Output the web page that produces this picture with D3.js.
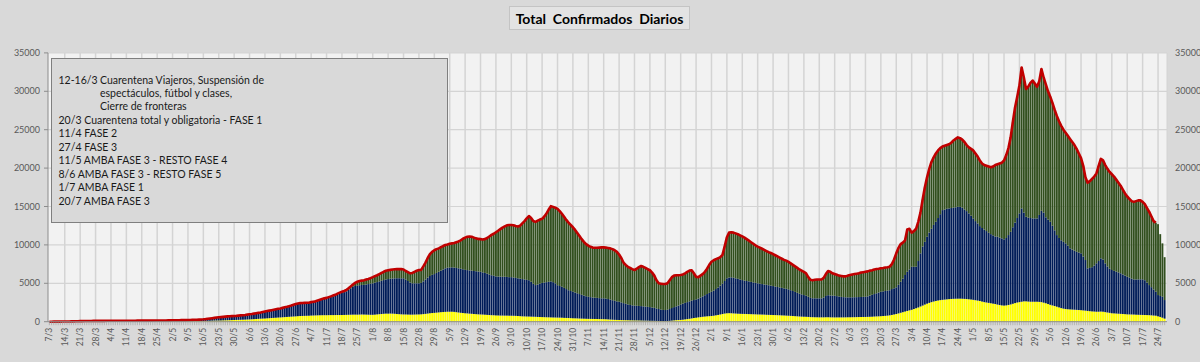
<!DOCTYPE html>
<html>
<head>
<meta charset="utf-8">
<script src="https://cdn.jsdelivr.net/npm/d3@7"></script>
<style>
  body { margin: 0; background: #d9d9d9; }
  text { font-family: Lato, "Liberation Sans", sans-serif; }
</style>
</head>
<body>
<div id="grafico"></div>
<script>
// primer dia de la serie (7/3/2020), un valor por dia
var inicio = new Date(2020, 2, 7);

var amarillo = [
  1, 1, 2, 3, 3, 4, 5,
  6, 8, 10, 12, 14, 16, 18,
  20, 22, 24, 26, 27, 28, 29,
  30, 31, 32, 32, 33, 33, 34,
  34, 35, 35, 36, 36, 37, 37,
  38, 38, 39, 39, 40, 40, 41,
  41, 42, 42, 43, 43, 44, 45,
  46, 47, 48, 48, 50, 51, 53,
  54, 56, 57, 59, 60, 62, 63,
  66, 69, 72, 75, 78, 82, 85,
  90, 100, 110, 120, 130, 140, 145,
  150, 160, 170, 180, 190, 200, 210,
  220, 230, 240, 250, 260, 270, 285,
  300, 315, 330, 350, 370, 390, 405,
  420, 440, 460, 480, 500, 520, 540,
  560, 580, 600, 620, 640, 660, 680,
  700, 720, 740, 750, 760, 770, 780,
  800, 810, 820, 830, 840, 845, 850,
  850, 855, 860, 860, 865, 870, 870,
  870, 880, 890, 900, 910, 920, 920,
  920, 930, 940, 930, 920, 910, 900,
  900, 920, 950, 980, 1000, 1030, 1050,
  1050, 1060, 1050, 1030, 1000, 980, 960,
  950, 940, 930, 920, 920, 930, 940,
  950, 960, 990, 1020, 1060, 1100, 1130,
  1150, 1180, 1210, 1240, 1260, 1280, 1300,
  1300, 1300, 1280, 1240, 1200, 1160, 1130,
  1100, 1080, 1050, 1030, 1000, 980, 960,
  950, 930, 910, 890, 870, 850, 840,
  820, 810, 800, 800, 790, 790, 780,
  780, 770, 760, 740, 720, 700, 690,
  680, 670, 660, 650, 640, 620, 610,
  600, 590, 580, 570, 560, 550, 545,
  540, 530, 520, 500, 490, 480, 465,
  450, 440, 430, 415, 400, 390, 380,
  370, 365, 360, 355, 350, 340, 335,
  330, 320, 300, 280, 260, 240, 230,
  220, 210, 200, 195, 190, 180, 175,
  170, 165, 160, 150, 140, 135, 130,
  120, 115, 110, 100, 95, 90, 85,
  80, 90, 110, 140, 170, 200, 215,
  230, 260, 300, 340, 380, 430, 480,
  520, 560, 600, 640, 670, 700, 720,
  740, 780, 830, 880, 940, 1000, 1060,
  1100, 1110, 1100, 1080, 1060, 1040, 1030,
  1020, 1010, 1000, 990, 980, 970, 960,
  950, 940, 930, 920, 900, 890, 880,
  870, 860, 850, 840, 820, 810, 790,
  780, 760, 740, 720, 700, 680, 660,
  650, 640, 620, 600, 590, 580, 575,
  570, 570, 570, 580, 580, 570, 565,
  560, 560, 560, 560, 565, 570, 575,
  580, 585, 590, 600, 605, 610, 615,
  620, 630, 640, 650, 670, 690, 700,
  720, 740, 760, 790, 830, 880, 940,
  1000, 1080, 1160, 1240, 1320, 1400, 1480,
  1550, 1650, 1750, 1850, 1980, 2100, 2230,
  2350, 2450, 2550, 2630, 2700, 2760, 2810,
  2850, 2880, 2910, 2940, 2960, 2980, 2990,
  3000, 3000, 2990, 2970, 2950, 2920, 2890,
  2850, 2800, 2750, 2700, 2620, 2550, 2500,
  2450, 2400, 2350, 2300, 2230, 2170, 2120,
  2100, 2120, 2180, 2250, 2330, 2420, 2500,
  2550, 2600, 2650, 2650, 2620, 2600, 2600,
  2600, 2600, 2580, 2550, 2480, 2400, 2300,
  2200, 2120, 2040, 1950, 1860, 1770, 1700,
  1650, 1620, 1600, 1580, 1560, 1540, 1520,
  1500, 1470, 1440, 1400, 1370, 1340, 1320,
  1300, 1300, 1320, 1300, 1250, 1200, 1150,
  1100, 1080, 1060, 1040, 1020, 1000, 980,
  960, 950, 940, 930, 910, 900, 890,
  880, 870, 860, 850, 830, 800, 780,
  700, 620, 520, 400
];

var azul = [
  1, 2, 3, 5, 7, 10, 13,
  16, 20, 25, 28, 34, 39, 44,
  50, 56, 61, 64, 68, 72, 73,
  75, 77, 78, 80, 79, 81, 81,
  82, 83, 85, 84, 86, 87, 88,
  87, 88, 89, 91, 92, 94, 94,
  95, 96, 98, 99, 101, 102, 105,
  106, 108, 110, 112, 115, 119, 122,
  126, 129, 133, 136, 140, 143, 147,
  154, 161, 168, 175, 182, 193, 205,
  220, 240, 270, 300, 330, 360, 395,
  420, 440, 460, 480, 500, 510, 520,
  520, 530, 550, 570, 590, 610, 635,
  660, 685, 720, 750, 780, 810, 855,
  900, 940, 980, 1020, 1060, 1100, 1140,
  1170, 1220, 1270, 1320, 1380, 1440, 1520,
  1600, 1660, 1680, 1690, 1690, 1690, 1690,
  1750, 1780, 1810, 1890, 1970, 2055, 2130,
  2180, 2265, 2350, 2440, 2525, 2650, 2760,
  2880, 2970, 3060, 3250, 3440, 3630, 3730,
  3780, 3820, 3840, 3870, 3930, 3990, 4050,
  4100, 4160, 4210, 4270, 4330, 4390, 4450,
  4500, 4540, 4570, 4620, 4660, 4680, 4690,
  4700, 4560, 4370, 4180, 4080, 4070, 4060,
  4050, 4090, 4260, 4480, 4690, 4850, 4970,
  5050, 5170, 5290, 5410, 5540, 5670, 5730,
  5750, 5780, 5770, 5760, 5750, 5740, 5700,
  5650, 5640, 5630, 5620, 5600, 5590, 5570,
  5550, 5490, 5440, 5360, 5280, 5200, 5140,
  5080, 5070, 5060, 5050, 5060, 5040, 5020,
  5020, 4980, 4940, 4910, 4880, 4850, 4810,
  4770, 4730, 4540, 4300, 4130, 4230, 4340,
  4450, 4510, 4570, 4630, 4690, 4600, 4455,
  4210, 4120, 4030, 3900, 3760, 3620, 3535,
  3450, 3360, 3270, 3185, 3100, 3010, 2940,
  2880, 2835, 2790, 2765, 2750, 2730, 2715,
  2710, 2680, 2650, 2600, 2540, 2480, 2420,
  2380, 2310, 2220, 2135, 2060, 2000, 1955,
  1930, 1905, 1890, 1880, 1860, 1835, 1800,
  1780, 1735, 1690, 1620, 1555, 1490, 1445,
  1440, 1470, 1540, 1640, 1730, 1800, 1885,
  2020, 2090, 2150, 2210, 2270, 2320, 2340,
  2380, 2440, 2550, 2660, 2780, 2900, 3030,
  3160, 3270, 3420, 3570, 3760, 3950, 4240,
  4550, 4640, 4680, 4640, 4590, 4540, 4470,
  4400, 4340, 4300, 4260, 4200, 4150, 4100,
  4050, 4010, 3970, 3930, 3900, 3860, 3820,
  3770, 3720, 3670, 3620, 3580, 3530, 3490,
  3430, 3340, 3260, 3160, 3060, 2970, 2900,
  2820, 2740, 2630, 2500, 2460, 2470, 2465,
  2470, 2470, 2580, 2770, 2870, 2850, 2835,
  2820, 2770, 2720, 2670, 2635, 2610, 2595,
  2590, 2595, 2600, 2600, 2605, 2610, 2625,
  2630, 2670, 2760, 2850, 2930, 3010, 3100,
  3180, 3210, 3240, 3260, 3270, 3370, 3410,
  3470, 3720, 4040, 4360, 4760, 5100, 5320,
  5610, 5500, 5410, 6050, 6920, 7700, 8170,
  8710, 9150, 9550, 9970, 10310, 10740, 11190,
  11680, 11720, 11790, 11810, 11840, 11870, 11910,
  11960, 11950, 11860, 11650, 11450, 11180, 10910,
  10600, 10300, 10050, 9750, 9580, 9450, 9300,
  9130, 9000, 8900, 8800, 8830, 8780, 8730,
  8620, 8780, 9100, 9450, 9970, 10480, 11000,
  11550, 12150, 11550, 11010, 10930, 10900, 10850,
  10850, 10850, 11320, 11890, 11720, 11200, 11000,
  10810, 10380, 9860, 9330, 9040, 8830, 8700,
  8550, 8280, 7950, 7820, 7690, 7560, 7480,
  7400, 7030, 6590, 5550, 5630, 5760, 5980,
  6300, 6600, 6930, 6800, 6350, 6000, 5750,
  5630, 5540, 5460, 5380, 5280, 5150, 5020,
  4900, 4800, 4660, 4580, 4590, 4610, 4630,
  4630, 4530, 4240, 3920, 3670, 3400, 3120,
  2770, 2730, 2730, 2420
];

// total diario (tope de las barras y linea roja)
var total = [
  2, 3, 5, 8, 10, 14, 18,
  22, 28, 35, 40, 48, 55, 62,
  70, 78, 85, 90, 95, 100, 102,
  105, 108, 110, 112, 112, 114, 115,
  116, 118, 120, 120, 122, 124, 125,
  125, 126, 128, 130, 132, 134, 135,
  136, 138, 140, 142, 144, 146, 150,
  152, 155, 158, 160, 165, 170, 175,
  180, 185, 190, 195, 200, 205, 210,
  220, 230, 240, 250, 260, 275, 290,
  310, 340, 380, 420, 460, 500, 540,
  570, 600, 630, 660, 690, 710, 730,
  740, 760, 790, 820, 850, 880, 920,
  960, 1000, 1050, 1100, 1150, 1200, 1260,
  1320, 1380, 1440, 1500, 1560, 1620, 1680,
  1730, 1800, 1870, 1940, 2020, 2100, 2200,
  2300, 2380, 2420, 2440, 2450, 2460, 2470,
  2550, 2600, 2650, 2750, 2850, 2950, 3040,
  3100, 3200, 3300, 3400, 3500, 3650, 3780,
  3900, 4000, 4120, 4350, 4600, 4850, 5050,
  5200, 5300, 5350, 5400, 5480, 5560, 5680,
  5800, 5930, 6050, 6200, 6350, 6500, 6640,
  6700, 6750, 6800, 6830, 6850, 6850, 6850,
  6800, 6600, 6450, 6300, 6350, 6500, 6650,
  6730, 6750, 7200, 7700, 8300, 8800, 9100,
  9300, 9450, 9550, 9700, 9850, 9980, 10050,
  10150, 10200, 10250, 10350, 10450, 10600, 10800,
  10950, 11050, 11100, 11050, 10950, 10850, 10780,
  10750, 10700, 10750, 10900, 11100, 11300, 11450,
  11650, 11850, 12050, 12250, 12400, 12550, 12600,
  12600, 12550, 12450, 12400, 12500, 12800, 13100,
  13450, 13750, 13500, 13100, 13000, 13150, 13300,
  13400, 13700, 14100, 14600, 15050, 14950, 14850,
  14700, 14400, 14050, 13650, 13250, 12900, 12600,
  12300, 11950, 11550, 11150, 10750, 10400, 10100,
  9900, 9750, 9650, 9620, 9620, 9650, 9680,
  9680, 9650, 9600, 9550, 9450, 9300, 9100,
  8750, 8300, 7700, 7400, 7150, 7000, 6850,
  6730, 6900, 7100, 7250, 7150, 7000, 6850,
  6700, 6400, 6000, 5400, 5000, 4950, 4900,
  4900, 5000, 5400, 5800, 6000, 6050, 6050,
  6080, 6150, 6300, 6500, 6650, 6700, 6300,
  5850, 5800, 6000, 6200, 6500, 6900, 7400,
  7800, 8000, 8150, 8250, 8400, 8700, 9800,
  11000, 11600, 11650, 11600, 11500, 11400, 11250,
  11100, 10950, 10750, 10550, 10350, 10150, 9950,
  9780, 9650, 9500, 9350, 9200, 9050, 8950,
  8800, 8650, 8500, 8350, 8200, 8050, 7950,
  7800, 7600, 7400, 7200, 7000, 6800, 6650,
  6500, 6300, 5800, 5450, 5400, 5450, 5500,
  5500, 5500, 5700, 6200, 6600, 6500, 6300,
  6200, 6100, 6000, 5950, 5900, 5900, 6000,
  6080, 6150, 6200, 6250, 6300, 6400, 6450,
  6500, 6550, 6650, 6700, 6800, 6850, 6900,
  6960, 7000, 7050, 7100, 7160, 7500, 8100,
  8900, 9600, 10100, 10300, 10600, 12000, 12100,
  11600, 11800, 12100, 13000, 14200, 15900, 17500,
  18800, 19900, 20800, 21400, 21900, 22300, 22600,
  22800, 22900, 23000, 23100, 23300, 23600, 23800,
  24000, 23900, 23700, 23400, 23000, 22700, 22500,
  22300, 21900, 21500, 21000, 20600, 20400, 20300,
  20200, 20100, 20200, 20400, 20500, 20600, 20700,
  21000, 21700, 22600, 24000, 26000, 27900, 29300,
  30800, 33100, 31800, 30300, 30600, 31100, 31400,
  31000, 30600, 31300, 32900, 31800, 30900, 30000,
  29300, 28500, 27600, 26800, 26100, 25500, 25000,
  24600, 24200, 23800, 23400, 23000, 22500, 21900,
  21300, 20300, 18800, 18100, 18300, 18600, 18900,
  19300, 20300, 21200, 21000, 20400, 19900, 19500,
  19200, 18900, 18500, 18100, 17700, 17200, 16700,
  16300, 16000, 15700, 15600, 15700, 15800, 15800,
  15600, 15300, 14800, 14300, 13700, 13100, 12900,
  12700, 11400, 10200, 8400
];

// la linea roja no llega a los ultimos 4 dias
var diasLinea = 504;

var ticksY = [0, 5000, 10000, 15000, 20000, 25000, 30000, 35000];

var titulo = "Total  Confirmados  Diarios";

var notas = [
  "Cuarentena Viajeros, Suspensión de",
  "espectáculos, fútbol y clases,",
  "Cierre de fronteras",
  "20/3 Cuarentena total y obligatoria - FASE 1",
  "11/4 FASE 2",
  "27/4 FASE 3",
  "11/5 AMBA FASE 3 - RESTO FASE 4",
  "8/6 AMBA FASE 3 - RESTO FASE 5",
  "1/7 AMBA FASE 1",
  "20/7 AMBA FASE 3"
];

var width = 1200, height = 362;
var plot = {left: 48, right: 1167, top: 52.9, bottom: 321.7};

var n = Math.min(amarillo.length, azul.length, total.length);
var fechas = d3.range(n).map(function(i) { return d3.timeDay.offset(inicio, i); });
var fmt = d3.timeFormat("%-d/%-m");

var filas = d3.range(n).map(function(i) {
  return {i: i, amarillo: amarillo[i], azul: azul[i], verde: Math.max(0, total[i] - amarillo[i] - azul[i])};
});

var svg = d3.select("#grafico")
  .append("svg")
    .attr("width", width)
    .attr("height", height);

svg.append("rect")
  .attr("width", width)
  .attr("height", height)
  .attr("fill", "#d9d9d9");

var x = d3.scaleBand()
  .domain(d3.range(n))
  .range([plot.left, plot.right - 1])
  .paddingInner(0.15)
  .paddingOuter(0.2);

var y = d3.scaleLinear()
  .domain([0, 35000])
  .range([plot.bottom, plot.top]);

var cx = function(i) { return x(i) + x.bandwidth() / 2; };

// fondo del area de trazado
svg.append("rect")
  .attr("x", plot.left)
  .attr("y", plot.top)
  .attr("width", plot.right - plot.left)
  .attr("height", plot.bottom - plot.top)
  .attr("fill", "#f2f2f2");

var semanas = d3.range(0, n, 7);

// grilla
svg.append("g")
  .selectAll("line")
  .data(ticksY.slice(1))
  .enter()
  .append("line")
    .attr("x1", plot.left)
    .attr("x2", plot.right)
    .attr("y1", function(d) { return y(d); })
    .attr("y2", function(d) { return y(d); })
    .attr("stroke", "#d4d4d4")
    .attr("stroke-width", 1.2);

svg.append("g")
  .selectAll("line")
  .data(semanas.slice(1))
  .enter()
  .append("line")
    .attr("x1", function(d) { return cx(d); })
    .attr("x2", function(d) { return cx(d); })
    .attr("y1", plot.top)
    .attr("y2", plot.bottom)
    .attr("stroke", "#d4d4d4")
    .attr("stroke-width", 1.5);

// barras apiladas
var colores = {amarillo: "#ffff00", azul: "#001c58", verde: "#314f1e"};
var series = d3.stack().keys(["amarillo", "azul", "verde"])(filas);

svg.append("g")
  .selectAll("g")
  .data(series)
  .enter()
  .append("g")
    .attr("fill", function(s) { return colores[s.key]; })
  .selectAll("rect")
  .data(function(s) { return s; })
  .enter()
  .append("rect")
    .attr("x", function(d) { return x(d.data.i); })
    .attr("width", x.bandwidth())
    .attr("y", function(d) { return y(d[1]); })
    .attr("height", function(d) { return Math.max(0, y(d[0]) - y(d[1])); });

// linea roja del total
var linea = d3.line()
  .x(function(i) { return cx(i); })
  .y(function(i) { return y(total[i]); });

svg.append("path")
  .datum(d3.range(Math.min(diasLinea, n)))
  .attr("d", linea)
  .attr("fill", "none")
  .attr("stroke", "#c00000")
  .attr("stroke-width", 2.6)
  .attr("stroke-linejoin", "round");

// eje izquierdo
svg.append("line")
  .attr("x1", plot.left).attr("x2", plot.left)
  .attr("y1", plot.top).attr("y2", plot.bottom)
  .attr("stroke", "#8c8c8c");

svg.append("line")
  .attr("x1", plot.right).attr("x2", plot.right)
  .attr("y1", plot.top).attr("y2", plot.bottom)
  .attr("stroke", "#d4d4d4");

var ejeIzq = svg.append("g");
ejeIzq.selectAll("line")
  .data(ticksY)
  .enter()
  .append("line")
    .attr("x1", plot.left - 4)
    .attr("x2", plot.left)
    .attr("y1", function(d) { return y(d); })
    .attr("y2", function(d) { return y(d); })
    .attr("stroke", "#8c8c8c");

ejeIzq.selectAll("text")
  .data(ticksY)
  .enter()
  .append("text")
    .attr("x", 40)
    .attr("y", function(d) { return y(d) + 3; })
    .attr("text-anchor", "end")
    .attr("font-size", "9px")
    .attr("fill", "#595959")
    .text(function(d) { return d; });

svg.append("g")
  .selectAll("text")
  .data(ticksY)
  .enter()
  .append("text")
    .attr("x", 1175)
    .attr("y", function(d) { return y(d) + 3; })
    .attr("font-size", "9px")
    .attr("fill", "#595959")
    .text(function(d) { return d; });

// eje inferior con marcas diarias
svg.append("g")
  .selectAll("line")
  .data(d3.range(n))
  .enter()
  .append("line")
    .attr("x1", function(d) { return cx(d); })
    .attr("x2", function(d) { return cx(d); })
    .attr("y1", plot.bottom)
    .attr("y2", plot.bottom + 3.5)
    .attr("stroke", "#9a9a9a")
    .attr("stroke-width", 0.6);

svg.append("line")
  .attr("x1", plot.left).attr("x2", plot.right)
  .attr("y1", plot.bottom).attr("y2", plot.bottom)
  .attr("stroke", "#8c8c8c");

svg.append("g")
  .selectAll("text")
  .data(semanas)
  .enter()
  .append("text")
    .attr("transform", function(d) { return "translate(" + (cx(d) + 3) + "," + (plot.bottom + 6) + ") rotate(-90)"; })
    .attr("text-anchor", "end")
    .attr("font-size", "8.5px")
    .attr("fill", "#595959")
    .text(function(d) { return fmt(fechas[d]); });

// cuadro de notas
svg.append("rect")
  .attr("x", 51.5)
  .attr("y", 58.5)
  .attr("width", 396)
  .attr("height", 164)
  .attr("fill", "#d9d9d9")
  .attr("stroke", "#7f7f7f");

var cuadro = svg.append("g")
  .attr("font-size", "10.5px")
  .attr("fill", "#1a1a1a");

cuadro.append("text")
  .attr("x", 58.5)
  .attr("y", 83.5)
  .text("12-16/3");

cuadro.selectAll("text.nota")
  .data(notas)
  .enter()
  .append("text")
    .attr("class", "nota")
    .attr("x", function(d, i) { return i === 0 ? 100 : (i < 3 ? 100 : 58.5); })
    .attr("y", function(d, i) { return 83.5 + i * 13.45; })
    .text(function(d) { return d; });

// titulo
svg.append("rect")
  .attr("x", 509.5)
  .attr("y", 6.5)
  .attr("width", 180)
  .attr("height", 23)
  .attr("fill", "#e3e3e3")
  .attr("stroke", "#c4c4c4");

svg.append("text")
  .attr("x", 599.5)
  .attr("y", 23.5)
  .attr("text-anchor", "middle")
  .attr("font-size", "14px")
  .attr("font-weight", "bold")
  .attr("fill", "#000")
  .style("white-space", "pre")
  .text(titulo);
</script>
</body>
</html>
